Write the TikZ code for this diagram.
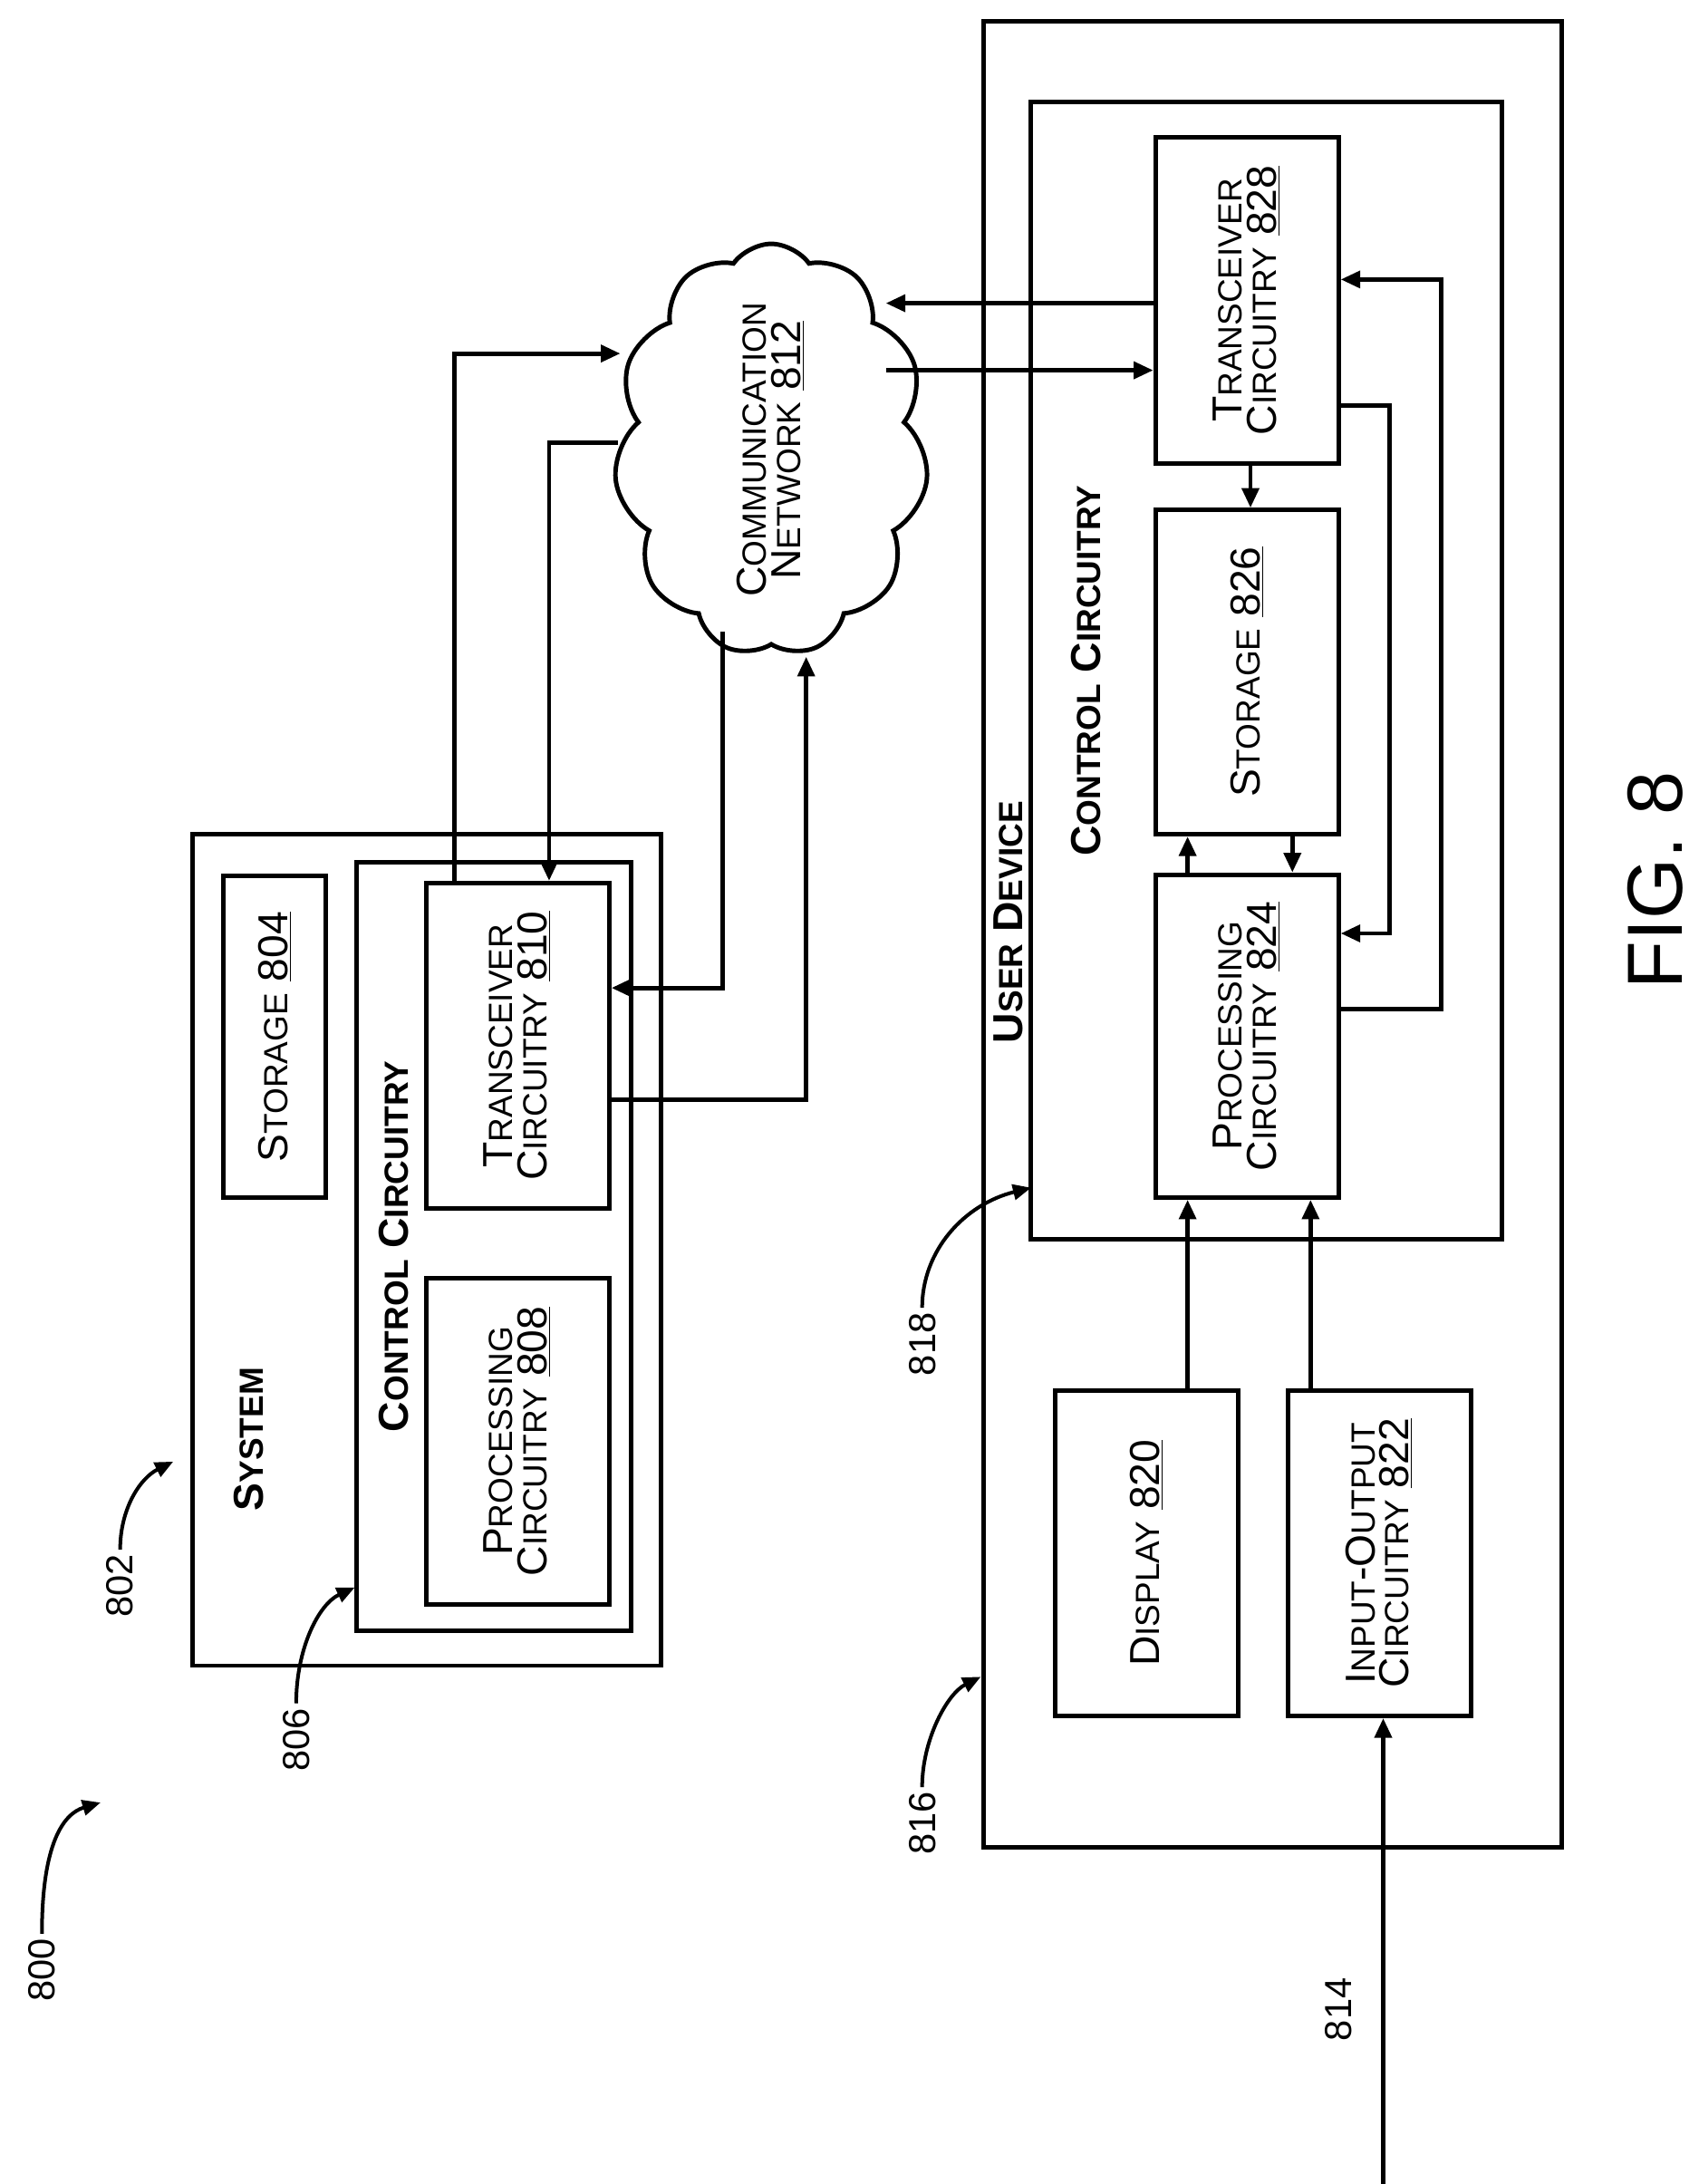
\documentclass[tikz,border=0pt]{standalone}
\usepackage{fontspec}
\setmainfont{Liberation Sans}
\usetikzlibrary{shapes.symbols,arrows.meta}
\newcommand\Sc[2]{{\fontsize{30}{34}\selectfont #1}{\fontsize{24}{34}\selectfont #2}}
\newcommand\Num[1]{{\fontsize{30}{34}\selectfont\ \underline{#1}}}
\newcommand\Sp{{\fontsize{30}{34}\selectfont\ }}
\begin{document}
\begin{tikzpicture}[x=1pt,y=-1pt,
  box/.style={draw,line width=3.2pt,rectangle,inner sep=0pt},
  arr/.style={line width=3.2pt,-{Triangle[length=14pt,width=12pt]}},
  lab/.style={font=\fontsize{27}{30}\selectfont},
  cur/.style={line width=2.6pt,-{Triangle[length=13pt,width=11pt]}}]
\useasboundingbox (0,0) rectangle (1216,1563);
% boxes
\node[box,minimum width=335pt,minimum height=595pt] (sys) at (305.5,894.5) {};
\node[box,minimum width=197pt,minimum height=550pt] (cc1) at (353.5,892) {};
\node[box,minimum width=73pt,minimum height=230pt] (s804) at (196.5,742) {\rotatebox{90}{\Sc{S}{TORAGE}\Num{804}}};
\node[box,minimum width=131pt,minimum height=233pt] (p808) at (370.5,1031.5) {\rotatebox{90}{\begin{tabular}{c}\Sc{P}{ROCESSING}\\\Sc{C}{IRCUITRY}\Num{808}\end{tabular}}};
\node[box,minimum width=131pt,minimum height=233pt] (t810) at (370.5,748.5) {\rotatebox{90}{\begin{tabular}{c}\Sc{T}{RANSCEIVER}\\\Sc{C}{IRCUITRY}\Num{810}\end{tabular}}};
\node[rotate=90,font=\bfseries] (lsys) at (178,1030) {\Sc{S}{YSTEM}};
\node[rotate=90,font=\bfseries] (lcc1) at (282,892) {\Sc{C}{ONTROL}\Sp\Sc{C}{IRCUITRY}};
\node[cloud,draw,line width=3.2pt,cloud puffs=11,cloud puff arc=110,cloud ignores aspect,minimum width=225pt,minimum height=295pt,inner sep=0pt] (cloud) at (552,322) {};
\node (lnet) at (552,322) {\rotatebox{90}{\begin{tabular}{c}\Sc{C}{OMMUNICATION}\\\Sc{N}{ETWORK}\Num{812}\end{tabular}}};
\node[box,minimum width=414pt,minimum height=1307pt] (ud) at (911,668.5) {};
\node[box,minimum width=337pt,minimum height=814pt] (cc2) at (906.5,480) {};
\node[rotate=90,font=\bfseries] (lud) at (722,660) {\Sc{U}{SER}\Sp\Sc{D}{EVICE}};
\node[rotate=90,font=\bfseries] (lcc2) at (777,480) {\Sc{C}{ONTROL}\Sp\Sc{C}{IRCUITRY}};
\node[box,minimum width=131pt,minimum height=234pt] (t828) at (892.5,215) {\rotatebox{90}{\begin{tabular}{c}\Sc{T}{RANSCEIVER}\\\Sc{C}{IRCUITRY}\Num{828}\end{tabular}}};
\node[box,minimum width=131pt,minimum height=232pt] (s826) at (892.5,481) {\rotatebox{90}{\Sc{S}{TORAGE}\Num{826}}};
\node[box,minimum width=131pt,minimum height=231pt] (p824) at (892.5,741.5) {\rotatebox{90}{\begin{tabular}{c}\Sc{P}{ROCESSING}\\\Sc{C}{IRCUITRY}\Num{824}\end{tabular}}};
\node[box,minimum width=131pt,minimum height=233pt] (d820) at (820.5,1111.5) {\rotatebox{90}{\Sc{D}{ISPLAY}\Num{820}}};
\node[box,minimum width=131pt,minimum height=233pt] (io822) at (987.5,1111.5) {\rotatebox{90}{\begin{tabular}{c}\Sc{I}{NPUT}{\fontsize{30}{34}\selectfont -}\Sc{O}{UTPUT}\\\Sc{C}{IRCUITRY}\Num{822}\end{tabular}}};
% free ends
\coordinate (cA) at (444,253);
\coordinate (cB) at (442,317);
\coordinate (cC) at (517,452);
\coordinate (cD) at (577,470);
\coordinate (cE) at (634,217);
\coordinate (cF) at (634,265);
\coordinate (in) at (990,1563);
% connectors
\draw[arr] ([xshift=-45.5pt]t810.north) |- (cA);
\draw[arr] (cB) -| ([xshift=22.5pt]t810.north);
\draw[arr] (cC) |- ([yshift=41.5pt]t810.east);
\draw[arr] ([yshift=-38.5pt]t810.east) -| (cD);
\draw[arr] ([yshift=-2pt]t828.west) -- (cE);
\draw[arr] (cF) -- ([yshift=-50pt]t828.west);
\draw[arr] ([xshift=2.5pt]t828.south) -- ([xshift=2.5pt]s826.north);
\draw[arr] ([xshift=-42.5pt]p824.north) -- ([xshift=-42.5pt]s826.south);
\draw[arr] ([xshift=32.5pt]s826.south) -- ([xshift=32.5pt]p824.north);
\draw[arr] ([yshift=-75pt]t828.east) -- ++(35,0) |- ([yshift=73.5pt]p824.east);
\draw[arr] ([yshift=19.5pt]p824.east) -- ++(72,0) |- ([yshift=15pt]t828.east);
\draw[arr] ([xshift=29.5pt]d820.north) -- ([xshift=-42.5pt]p824.south);
\draw[arr] ([xshift=-49.5pt]io822.north) -- ([xshift=45.5pt]p824.south);
\draw[arr] (in) -- ([xshift=2.5pt]io822.south);
% reference labels
\node[lab,rotate=90] (n800) at (30,1410) {800};
\node[lab,rotate=90] (n802) at (86,1135) {802};
\node[lab,rotate=90] (n806) at (212,1245) {806};
\node[lab,rotate=90] (n816) at (660,1305) {816};
\node[lab,rotate=90] (n818) at (660,962) {818};
\node[lab,rotate=90] (n814) at (958,1438) {814};
\draw[cur] (n800.east) .. controls (30,1320) and (45,1298) .. (72,1290);
\draw[cur] (n802.east) .. controls (86,1080) and (100,1058) .. (124,1046);
\draw[cur] (n806.east) .. controls (212,1180) and (228,1148) .. (254,1136);
\draw[cur] (n816.east) .. controls (660,1245) and (678,1212) .. (702,1200);
\draw[cur] (n818.east) .. controls (660,895) and (690,862) .. (738,850);
\node[rotate=90,font=\fontsize{56}{60}\selectfont] (fig) at (1185,630) {FIG. 8};
\end{tikzpicture}
\end{document}
